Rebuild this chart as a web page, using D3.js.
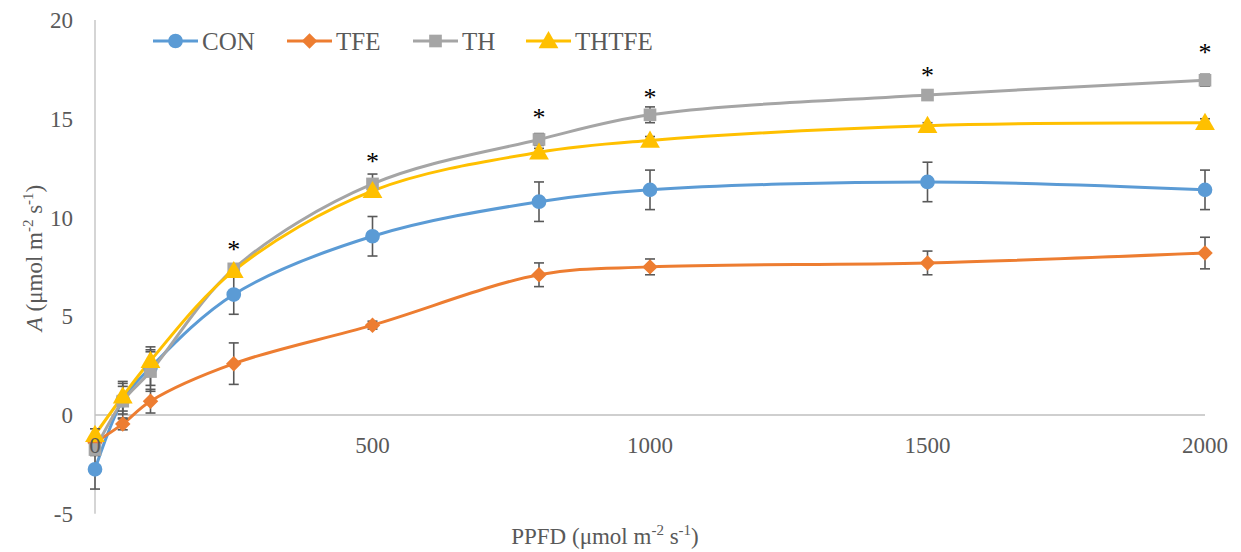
<!DOCTYPE html>
<html>
<head>
<meta charset="utf-8">
<script src="https://cdn.jsdelivr.net/npm/d3@7"></script>
<style>
  html, body { margin: 0; padding: 0; background: #fff; }
  svg text { font-family: "Liberation Serif", "DejaVu Serif", "Times New Roman", serif; }
</style>
</head>
<body>
<svg id="chart" width="1241" height="552"></svg>
<script>
// Light response of net photosynthesis (A) against PPFD
const ppfd = [0, 50, 100, 250, 500, 800, 1000, 1500, 2000];

const conValues   = [-2.75, 0.75, 2.4, 6.1, 9.05, 10.8, 11.4, 11.8, 11.4];
const conErrors   = [1.0, 0.7, 0.9, 1.0, 1.0, 1.0, 1.0, 1.0, 1.0];
const tfeValues   = [-1.4, -0.45, 0.7, 2.6, 4.55, 7.1, 7.5, 7.7, 8.2];
const tfeErrors   = [0.3, 0.3, 0.6, 1.05, 0.2, 0.6, 0.4, 0.6, 0.8];
const thValues    = [-1.75, 0.7, 2.2, 7.4, 11.7, 13.95, 15.2, 16.2, 16.95];
const thErrors    = [0.3, 0.9, 1.0, 0.15, 0.5, 0.3, 0.4, 0.15, 0.3];
const thtfeValues = [-1.0, 0.95, 2.75, 7.3, 11.35, 13.3, 13.9, 14.65, 14.8];
const thtfeErrors = [0.3, 0.75, 0.7, 0.3, 0.25, 0.2, 0.2, 0.15, 0.2];

// PPFD levels flagged as significantly different, and the height of each flag
const significantAt = [250, 500, 800, 1000, 1500, 2000];
const significanceLevel = [8.6, 13.05, 15.3, 16.3, 17.4, 18.6];

const yTicks = [-5, 0, 5, 10, 15, 20];
const xTicks = [0, 500, 1000, 1500, 2000];

const series = [
  { name: "CON",   color: "#5B9BD5", shape: "circle",   values: conValues,   errors: conErrors },
  { name: "TFE",   color: "#ED7D31", shape: "diamond",  values: tfeValues,   errors: tfeErrors },
  { name: "TH",    color: "#A5A5A5", shape: "square",   values: thValues,    errors: thErrors },
  { name: "THTFE", color: "#FFC000", shape: "triangle", values: thtfeValues, errors: thtfeErrors }
];

const FONT = "'Liberation Serif', 'DejaVu Serif', 'Times New Roman', serif";
const svg = d3.select("#chart");
const x = d3.scaleLinear().domain([0, 2000]).range([95, 1205]);
const y = d3.scaleLinear().domain([-5, 20]).range([513.75, 20]);
const textColor = "#595959";
const axisColor = "#BFBFBF";

// y axis line and labels
svg.append("line")
  .attr("x1", x(0)).attr("x2", x(0))
  .attr("y1", y(20)).attr("y2", y(-5))
  .attr("stroke", axisColor).attr("stroke-width", 1.3);

svg.append("g").selectAll("text").data(yTicks).join("text")
  .attr("x", 73).attr("y", d => y(d)).attr("dy", "0.35em")
  .attr("text-anchor", "end")
  .attr("font-family", FONT)
  .attr("font-size", 23).attr("fill", textColor)
  .text(d => d);

// x axis line through zero
svg.append("line")
  .attr("x1", x(0)).attr("x2", x(2000))
  .attr("y1", y(0)).attr("y2", y(0))
  .attr("stroke", axisColor).attr("stroke-width", 1.3);

// marker shapes (diamond is a square turned by 45 degrees)
const symbolFor = {
  circle: d3.symbol(d3.symbolCircle, 170),
  diamond: d3.symbol(d3.symbolSquare, 120),
  square: d3.symbol(d3.symbolSquare, 160),
  triangle: d3.symbol(d3.symbolTriangle, 170)
};
const rotFor = { circle: 0, diamond: 45, square: 0, triangle: 0 };
const dyFor = { circle: 0, diamond: 0, square: 0, triangle: 1.5 };

const line = d3.line()
  .x((d, i) => x(ppfd[i]))
  .y(d => y(d))
  .curve(d3.curveCatmullRom.alpha(0.5));

const plot = svg.append("g");

series.forEach(s => {
  plot.append("path")
    .datum(s.values)
    .attr("d", line)
    .attr("fill", "none")
    .attr("stroke", s.color)
    .attr("stroke-width", 3)
    .attr("stroke-linejoin", "round");
});

// error bars
series.forEach(s => {
  const g = plot.append("g").attr("stroke", "#595959").attr("stroke-width", 1.6);
  s.values.forEach((v, i) => {
    const e = s.errors[i];
    const cx = x(ppfd[i]);
    g.append("line").attr("x1", cx).attr("x2", cx).attr("y1", y(v + e)).attr("y2", y(v - e));
    g.append("line").attr("x1", cx - 5).attr("x2", cx + 5).attr("y1", y(v + e)).attr("y2", y(v + e));
    g.append("line").attr("x1", cx - 5).attr("x2", cx + 5).attr("y1", y(v - e)).attr("y2", y(v - e));
  });
});

// markers
series.forEach(s => {
  plot.append("g").selectAll("path").data(s.values).join("path")
    .attr("d", symbolFor[s.shape])
    .attr("transform", (d, i) => `translate(${x(ppfd[i])},${y(d) + dyFor[s.shape]}) rotate(${rotFor[s.shape]})`)
    .attr("fill", s.color);
});

// x tick labels, drawn below the zero line
svg.append("g").selectAll("text").data(xTicks).join("text")
  .attr("x", d => x(d)).attr("y", y(0) + 38)
  .attr("text-anchor", "middle")
  .attr("font-family", FONT)
  .attr("font-size", 23).attr("fill", textColor)
  .text(d => d);

// significance asterisks
svg.append("g").selectAll("text").data(significantAt).join("text")
  .attr("x", d => x(d))
  .attr("y", (d, i) => y(significanceLevel[i]) + 13)
  .attr("text-anchor", "middle")
  .attr("font-family", FONT)
  .attr("font-size", 26).attr("fill", "#000")
  .text("*");

// legend
const legend = svg.append("g");
const legendX = [153, 287, 413, 526];
series.forEach((s, i) => {
  const lx = legendX[i];
  const ly = 41;
  legend.append("line")
    .attr("x1", lx).attr("x2", lx + 45).attr("y1", ly).attr("y2", ly)
    .attr("stroke", s.color).attr("stroke-width", 3);
  legend.append("path")
    .attr("d", symbolFor[s.shape])
    .attr("transform", `translate(${lx + 22.5},${ly + dyFor[s.shape]}) rotate(${rotFor[s.shape]})`)
    .attr("fill", s.color);
  legend.append("text")
    .attr("x", lx + 49).attr("y", ly).attr("dy", "0.35em")
    .attr("font-family", FONT)
    .attr("font-size", 25).attr("fill", textColor)
    .text(s.name);
});

// axis titles
const xTitle = svg.append("text")
  .attr("x", 605).attr("y", 544)
  .attr("text-anchor", "middle")
  .attr("font-family", FONT)
  .attr("font-size", 23).attr("fill", textColor);
xTitle.append("tspan").text("PPFD (μmol m");
xTitle.append("tspan").attr("dy", -9).attr("font-size", 15).text("-2");
xTitle.append("tspan").attr("dy", 9).text(" s");
xTitle.append("tspan").attr("dy", -9).attr("font-size", 15).text("-1");
xTitle.append("tspan").attr("dy", 9).text(")");

const yTitle = svg.append("text")
  .attr("transform", "translate(42,258) rotate(-90)")
  .attr("text-anchor", "middle")
  .attr("font-family", FONT)
  .attr("font-size", 23).attr("fill", textColor);
yTitle.append("tspan").attr("font-style", "italic").text("A");
yTitle.append("tspan").text(" (μmol m");
yTitle.append("tspan").attr("dy", -9).attr("font-size", 15).text("-2");
yTitle.append("tspan").attr("dy", 9).text(" s");
yTitle.append("tspan").attr("dy", -9).attr("font-size", 15).text("-1");
yTitle.append("tspan").attr("dy", 9).text(")");
</script>
</body>
</html>
